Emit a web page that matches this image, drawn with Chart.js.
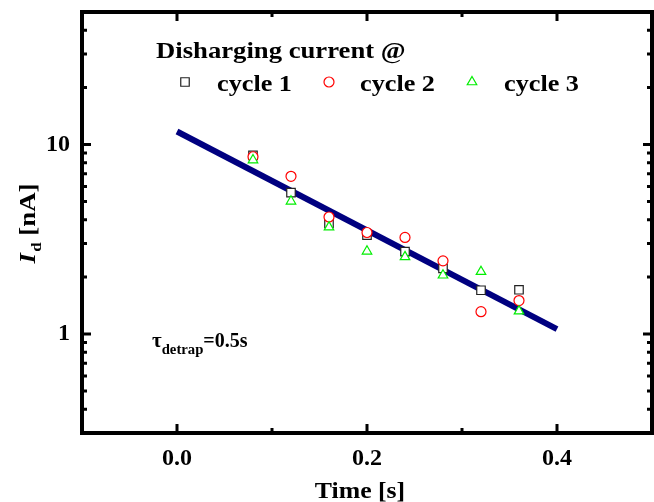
<!DOCTYPE html>
<html>
<head>
<meta charset="utf-8">
<script src="https://cdn.jsdelivr.net/npm/chart.js@4.4.1/dist/chart.umd.min.js"></script>
<style>
  html, body { margin: 0; padding: 0; background: #fff; }
  #wrap { width: 654px; height: 502px; }
</style>
</head>
<body>
<div id="wrap"><canvas id="chart" width="654" height="502"></canvas></div>
<script>
/* measured discharge current, nA */
const times  = [0.08, 0.12, 0.16, 0.20, 0.24, 0.28, 0.32, 0.36];
const cycle1 = [8.75, 5.57, 3.83, 3.32, 2.72, 2.22, 1.70, 1.71];
const cycle2 = [8.61, 6.79, 4.14, 3.43, 3.23, 2.43, 1.31, 1.50];
const cycle3 = [8.27, 5.01, 3.66, 2.73, 2.55, 2.04, 2.13, 1.32];

/* exponential fit, end points */
const fitT = [0.0, 0.4];
const fitI = [11.7, 1.06];

const seriesNames = ['cycle 1', 'cycle 2', 'cycle 3'];
const xTicks = [0.0, 0.2, 0.4];
const xMinor = [0.1, 0.3];
const yTicks = [1, 10];
const yMinor = [0.3, 0.4, 0.5, 0.6, 0.7, 0.8, 0.9, 2, 3, 4, 5, 6, 7, 8, 9, 20, 30, 40];

const SERIF = "'Liberation Serif', 'Times New Roman', serif";
const pts = ys => times.map((t, i) => ({ x: t, y: ys[i] }));

const marker = (color, style, r) => ({
  showLine: false,
  pointStyle: style,
  pointRadius: r,
  pointBorderWidth: 1.2,
  pointBorderColor: color,
  pointBackgroundColor: '#fff',
  borderColor: color,
});

/* stretched text helper */
function txt(ctx, s, x, y, font, sx) {
  ctx.save();
  ctx.font = font;
  ctx.translate(x, y);
  ctx.scale(sx, 1);
  ctx.fillText(s, 0, 0);
  const w = ctx.measureText(s).width * sx;
  ctx.restore();
  return w;
}

const noPad = s => { s.paddingTop = 0; s.paddingBottom = 0; s.paddingLeft = 0; s.paddingRight = 0; };

const frame = {
  id: 'frame',
  afterDatasetsDraw(chart) {
    const { ctx, chartArea: a, scales: { x, y } } = chart;
    ctx.save();
    ctx.strokeStyle = '#000';
    ctx.lineCap = 'butt';

    // inward ticks on all four sides
    ctx.lineWidth = 3;
    const tick = (px, len, horiz) => {
      ctx.beginPath();
      if (horiz) {
        ctx.moveTo(px, a.bottom); ctx.lineTo(px, a.bottom - len);
        ctx.moveTo(px, a.top);    ctx.lineTo(px, a.top + len);
      } else {
        ctx.moveTo(a.left, px);  ctx.lineTo(a.left + len, px);
        ctx.moveTo(a.right, px); ctx.lineTo(a.right - len, px);
      }
      ctx.stroke();
    };
    xTicks.forEach(v => tick(x.getPixelForValue(v), 9, true));
    xMinor.forEach(v => tick(x.getPixelForValue(v), 5, true));
    yTicks.forEach(v => tick(y.getPixelForValue(v), 9, false));
    yMinor.forEach(v => tick(y.getPixelForValue(v), 5, false));

    ctx.lineWidth = 4;
    ctx.strokeRect(a.left, a.top, a.right - a.left, a.bottom - a.top);

    ctx.fillStyle = '#000';
    ctx.textBaseline = 'alphabetic';

    // legend
    txt(ctx, 'Disharging current @', 156, 58, 'bold 23px ' + SERIF, 1.16);
    const lx = [185, 329, 472], tx = [217, 360, 504];
    chart.data.datasets.slice(1).forEach((ds, i) => {
      ctx.save();
      ctx.strokeStyle = ds.pointBorderColor;
      ctx.fillStyle = '#fff';
      ctx.lineWidth = ds.pointBorderWidth;
      Chart.helpers.drawPoint(ctx, { pointStyle: ds.pointStyle, radius: ds.pointRadius, rotation: 0, borderWidth: ds.pointBorderWidth }, lx[i], 82);
      ctx.restore();
      txt(ctx, seriesNames[i], tx[i], 91, 'bold 23px ' + SERIF, 1.14);
    });

    // time constant
    let cx = 152;
    cx += txt(ctx, 'τ', cx, 347, 'bold 21px ' + SERIF, 1);
    cx += txt(ctx, 'detrap', cx, 354, 'bold 14px ' + SERIF, 1.05);
    txt(ctx, '=0.5s', cx, 347, 'bold 20px ' + SERIF, 1);

    // x title
    ctx.font = 'bold 23px ' + SERIF;
    const tw = ctx.measureText('Time [s]').width * 1.12;
    txt(ctx, 'Time [s]', 360 - tw / 2, 498, 'bold 23px ' + SERIF, 1.12);

    // y title, rotated
    ctx.save();
    ctx.translate(35, 224);
    ctx.rotate(-Math.PI / 2);
    ctx.scale(1.12, 1);
    ctx.font = 'italic bold 24px ' + SERIF;
    const w1 = ctx.measureText('I').width;
    ctx.font = 'bold 15px ' + SERIF;
    const w2 = ctx.measureText('d').width;
    ctx.font = 'bold 24px ' + SERIF;
    const w3 = ctx.measureText(' [nA]').width;
    let ux = -(w1 + w2 + w3) / 2;
    ctx.font = 'italic bold 24px ' + SERIF;
    ctx.fillText('I', ux, 0); ux += w1 + 1;
    ctx.font = 'bold 15px ' + SERIF;
    ctx.fillText('d', ux, 6); ux += w2;
    ctx.font = 'bold 24px ' + SERIF;
    ctx.fillText(' [nA]', ux, 0);
    ctx.restore();

    ctx.restore();
  }
};

new Chart(document.getElementById('chart'), {
  type: 'scatter',
  data: {
    datasets: [
      {
        label: 'fit',
        data: fitT.map((t, i) => ({ x: t, y: fitI[i] })),
        showLine: true,
        borderColor: '#000080',
        borderWidth: 6,
        pointRadius: 0,
        order: 4,
      },
      { label: seriesNames[0], data: pts(cycle1), order: 3, ...marker('#222', 'rect', 6) },
      { label: seriesNames[1], data: pts(cycle2), order: 2, ...marker('#ff0000', 'circle', 5) },
      { label: seriesNames[2], data: pts(cycle3), order: 1, ...marker('#00ee00', 'triangle', 5.5) },
    ]
  },
  options: {
    responsive: false,
    animation: false,
    devicePixelRatio: 1,
    layout: { autoPadding: false, padding: { top: 12, right: 2, left: 0, bottom: 0 } },
    plugins: { legend: { display: false }, tooltip: { enabled: false } },
    scales: {
      x: {
        type: 'linear',
        min: -0.1,
        max: 0.5,
        afterBuildTicks: s => { s.ticks = xTicks.map(v => ({ value: v })); },
        afterFit: s => { s.height = 69; noPad(s); },
        grid: { display: false, drawTicks: false },
        border: { display: false },
        ticks: {
          padding: 11,
          color: '#000',
          font: { family: SERIF, size: 24, weight: 'bold' },
          callback: v => v.toFixed(1),
        },
      },
      y: {
        type: 'logarithmic',
        min: 0.3,
        max: 50,
        afterBuildTicks: s => { s.ticks = yTicks.map(v => ({ value: v })); },
        afterFit: s => { s.width = 82; noPad(s); },
        grid: { display: false, drawTicks: false },
        border: { display: false },
        ticks: {
          padding: 12,
          color: '#000',
          font: { family: SERIF, size: 24, weight: 'bold' },
          callback: v => String(v),
        },
      },
    },
  },
  plugins: [frame],
});
</script>
</body>
</html>
